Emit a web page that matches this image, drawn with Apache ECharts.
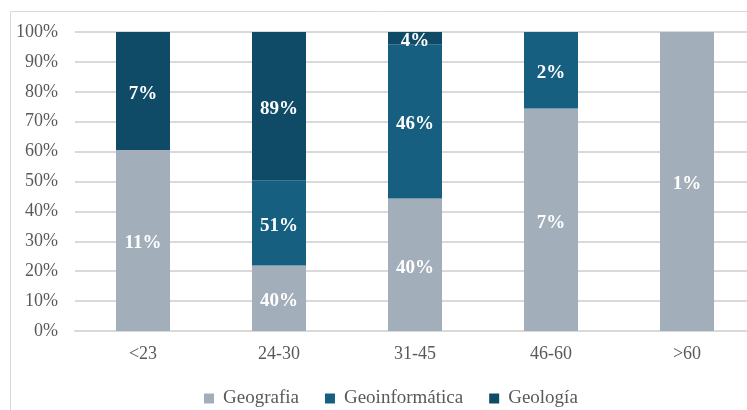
<!DOCTYPE html>
<html>
<head>
<meta charset="utf-8">
<script src="https://cdn.jsdelivr.net/npm/echarts@6/dist/echarts.min.js"></script>
<style>html,body{margin:0;padding:0;background:#fff;}#c{width:747px;height:410px;}</style>
</head>
<body>
<div id="c"></div>
<script>
var categories = ['<23', '24-30', '31-45', '46-60', '>60'];
var seriesNames = ['Geografia', 'Geoinformática', 'Geología'];
// bar heights (share of 100%)
var geografia = [60.5, 21.9, 44.3, 74.4, 100];
var geoinformatica = [0, 28.5, 51.6, 25.6, 0];
var geologia = [39.5, 49.6, 4.1, 0, 0];
// label texts shown on the bars
var geografiaLabels = ['11%', '40%', '40%', '7%', '1%'];
var geoinformaticaLabels = ['', '51%', '46%', '2%', ''];
var geologiaLabels = ['7%', '89%', '4%', '', ''];
var yTicks = [0, 10, 20, 30, 40, 50, 60, 70, 80, 90, 100];

var colors = ['#a2aeb9', '#175f80', '#0f4b66'];
var font = '"Liberation Serif", "Times New Roman", serif';

function mk(name, vals, labels, color) {
  return {
    name: name,
    type: 'bar',
    stack: 'total',
    barWidth: 54,
    itemStyle: { color: color },
    label: {
      show: true,
      position: 'inside',
      offset: [0, 3],
      color: '#ffffff',
      fontFamily: font,
      fontWeight: 'bold',
      fontSize: 19,
      formatter: function (p) { return labels[p.dataIndex]; }
    },
    data: vals
  };
}

var chart = echarts.init(document.getElementById('c'));
chart.setOption({
  animation: false,
  backgroundColor: '#ffffff',
  graphic: [{
    type: 'rect',
    shape: { x: 10.5, y: 11.5, width: 760, height: 420 },
    style: { fill: 'none', stroke: '#d9d9d9', lineWidth: 1 },
    silent: true
  }],
  grid: { left: 75, top: 32, width: 680, height: 299, outerBoundsMode: 'none', containLabel: false },
  legend: {
    data: seriesNames,
    top: 384,
    left: 199,
    icon: 'rect',
    itemWidth: 10,
    itemHeight: 10,
    itemGap: 26,
    textStyle: { fontFamily: font, fontSize: 19, color: '#595959', padding: [0, 0, 0, 4] }
  },
  xAxis: {
    type: 'category',
    data: categories,
    axisLine: { show: true, lineStyle: { color: '#d9d9d9', width: 2 } },
    axisTick: { show: false },
    axisLabel: { color: '#595959', fontFamily: font, fontSize: 18, margin: 14 }
  },
  yAxis: {
    type: 'value',
    min: 0,
    max: 100,
    interval: 10,
    axisLine: { show: false },
    axisTick: { show: false },
    splitLine: { lineStyle: { color: '#d9d9d9', width: 2 } },
    axisLabel: {
      color: '#595959', fontFamily: font, fontSize: 18, margin: 17,
      formatter: function (v) { return v + '%'; }
    }
  },
  series: [
    mk(seriesNames[0], geografia, geografiaLabels, colors[0]),
    mk(seriesNames[1], geoinformatica, geoinformaticaLabels, colors[1]),
    mk(seriesNames[2], geologia, geologiaLabels, colors[2])
  ]
});
</script>
</body>
</html>
